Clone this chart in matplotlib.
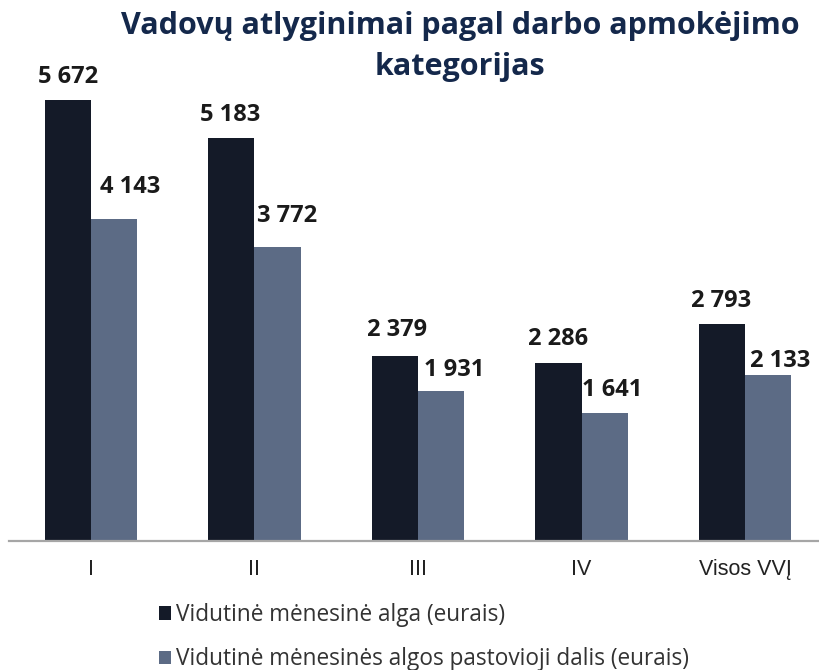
import matplotlib.pyplot as plt
from matplotlib.patches import Patch
import numpy as np

# 数据
categories = ['I', 'II', 'III', 'IV', 'Visos VVĮ']
alga = [5672, 5183, 2379, 2286, 2793]
pastovioji = [4143, 3772, 1931, 1641, 2133]
series_names = ['Vidutinė mėnesinė alga (eurais)',
                'Vidutinė mėnesinės algos pastovioji dalis (eurais)']
title = 'Vadovų atlyginimai pagal darbo apmokėjimo\nkategorijas'

# 标签偏移 (像素)
dark_off = [(0, 17), (-1, 17), (2, 20), (0, 18), (-1, 17)]
light_off = [(16, 26), (10, 25), (13, 15), (8, 17), (12, 8)]

dark = '#141a28'
light = '#5c6b85'


def fmt(v):
    return f'{v:,}'.replace(',', ' ')


fig = plt.figure(figsize=(8.2, 6.7), dpi=100)
ax = fig.add_axes([9 / 820, 129 / 670, 818 / 820, 467 / 670])

x = np.arange(len(categories))
w = 0.282
b1 = ax.bar(x - w / 2, alga, width=w, color=dark)
b2 = ax.bar(x + w / 2, pastovioji, width=w, color=light)

for bars, offs in ((b1, dark_off), (b2, light_off)):
    for rect, off in zip(bars, offs):
        v = rect.get_height()
        ax.annotate(fmt(int(v)), (rect.get_x() + rect.get_width() / 2, v),
                    xytext=off, textcoords='offset pixels',
                    ha='center', va='baseline', fontsize=17, fontweight='bold',
                    family='Open Sans', color='#1a1a1a')

ax.set_xlim(-0.5, 4.5)
ax.set_ylim(0, 6000)
ax.set_xticks(x)
ax.set_xticklabels(categories, family='Liberation Sans', fontsize=15.5, color='#222222')
ax.tick_params(axis='x', length=0, pad=13)
ax.set_yticks([])
for s in ['top', 'left', 'right']:
    ax.spines[s].set_visible(False)
ax.spines['bottom'].set_color('#a6a6a6')
ax.spines['bottom'].set_linewidth(1.6)

fig.text(460 / 820, 1 - 11 / 670, title, ha='center', va='top', fontsize=22,
         fontweight='bold', family='Open Sans', color='#14284b', linespacing=1.5)

handles = [Patch(facecolor=dark), Patch(facecolor=light)]
fig.legend(handles, series_names, loc='upper left', bbox_to_anchor=(159 / 820, 1 - 603 / 670),
           frameon=False, prop={'family': 'Open Sans', 'size': 16.3},
           handlelength=0.55, handleheight=0.55, handletextpad=0.2, labelspacing=0.9,
           borderpad=0, borderaxespad=0, labelcolor='#333333')

fig.savefig('out.png', dpi=100)
